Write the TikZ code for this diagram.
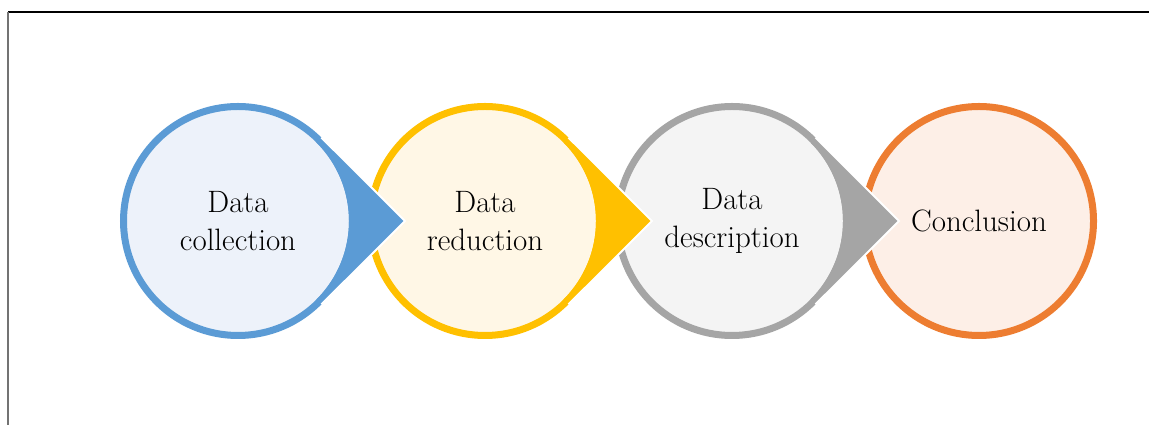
\documentclass[tikz,border=0pt]{standalone}
\usepackage{tikz}
\usetikzlibrary{calc}
\usetikzlibrary{positioning}

\definecolor{blueline}{HTML}{5B9BD5}
\definecolor{bluefill}{HTML}{EDF2FA}
\definecolor{goldline}{HTML}{FFC000}
\definecolor{goldfill}{HTML}{FFF7E6}
\definecolor{greyline}{HTML}{A5A5A5}
\definecolor{greyfill}{HTML}{F4F4F4}
\definecolor{orangeline}{HTML}{ED7D31}
\definecolor{orangefill}{HTML}{FDEFE7}

\begin{document}
\begin{tikzpicture}[x=0.25mm, y=0.25mm,
    stage/.style={circle, minimum size=57.25mm, inner sep=0pt, line width=1.75mm,
        align=center, font=\fontsize{22}{27}\selectfont},
    horn/.style={line width=0.5mm, white}]
        \useasboundingbox (0,0) rectangle (1149,425);
        % frame
        \draw[black, line width=0.4mm] (8,413) -- (1149,413);
        \draw[black!55, line width=0.5mm] (8,413) -- (8,0);

        \node[stage, draw=blueline, fill=bluefill] (collect) at (238,204) {Data\\collection};
        \node[stage, draw=goldline, fill=goldfill, right=2.75mm of collect] (reduce) {Data\\reduction};
        \node[stage, draw=greyline, fill=greyfill, right=2.75mm of reduce] (describe) {Data\\description};
        \node[stage, draw=orangeline, fill=orangefill, right=2.75mm of describe] (conclude) {Conclusion};

        % pointed ends
        \coordinate (collect tip) at ($(collect.center)+(167,0)$);
        \coordinate (reduce tip) at ($(reduce.center)+(167,0)$);
        \coordinate (describe tip) at ($(describe.center)+(167,0)$);

        \fill[blueline] (collect.45) -- (collect tip) -- (collect.-45) -- ($(collect.center)+(-45:27.75mm)$) arc[start angle=-45, end angle=45, radius=27.75mm] -- cycle;
        \draw[horn] (collect.45) -- (collect tip) -- (collect.-45);
        \fill[goldline] (reduce.45) -- (reduce tip) -- (reduce.-45) -- ($(reduce.center)+(-45:27.75mm)$) arc[start angle=-45, end angle=45, radius=27.75mm] -- cycle;
        \draw[horn] (reduce.45) -- (reduce tip) -- (reduce.-45);
        \fill[greyline] (describe.45) -- (describe tip) -- (describe.-45) -- ($(describe.center)+(-45:27.75mm)$) arc[start angle=-45, end angle=45, radius=27.75mm] -- cycle;
        \draw[horn] (describe.45) -- (describe tip) -- (describe.-45);
\end{tikzpicture}
\end{document}
